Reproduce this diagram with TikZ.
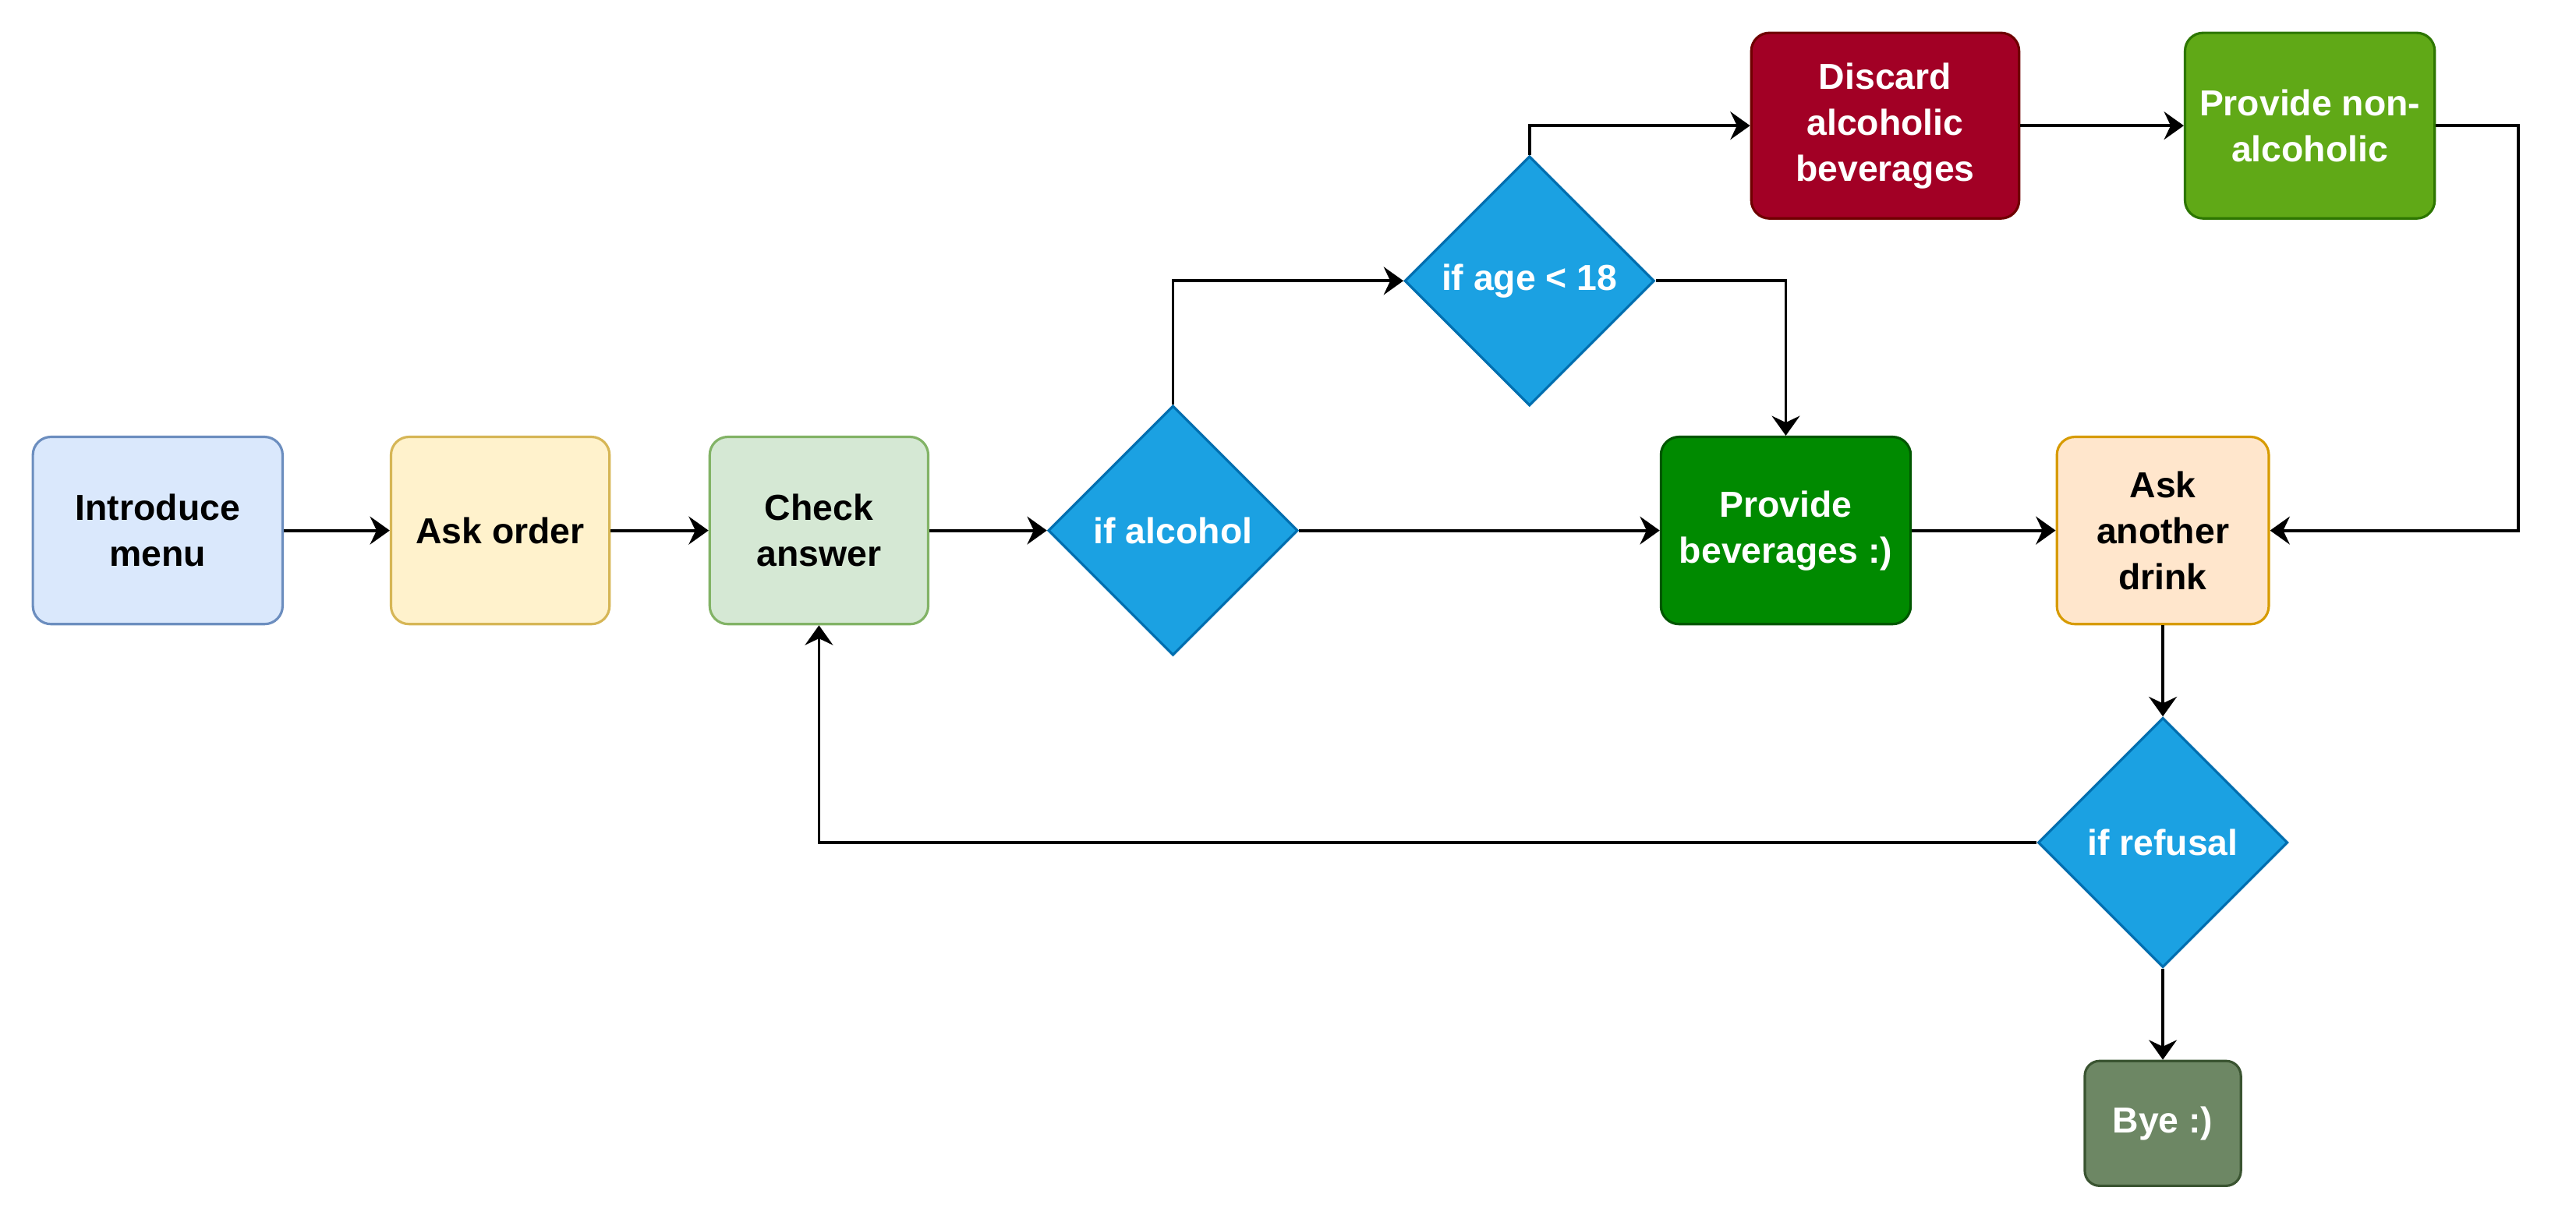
\documentclass[tikz,border=0pt]{standalone}
\usepackage{fontspec}
\setmainfont{Liberation Sans}
\usepackage{tikz}
\usetikzlibrary{shapes.geometric, arrows.meta}

\definecolor{introfill}{HTML}{DAE8FC}\definecolor{introline}{HTML}{6C8EBF}
\definecolor{askfill}{HTML}{FFF2CC}\definecolor{askline}{HTML}{D6B656}
\definecolor{checkfill}{HTML}{D5E8D4}\definecolor{checkline}{HTML}{82B366}
\definecolor{ifill}{HTML}{1BA1E2}\definecolor{iline}{HTML}{006EAF}
\definecolor{discfill}{HTML}{A20025}\definecolor{discline}{HTML}{6F0000}
\definecolor{nonfill}{HTML}{60A917}\definecolor{nonline}{HTML}{2D7600}
\definecolor{provfill}{HTML}{008A00}\definecolor{provline}{HTML}{005700}
\definecolor{anofill}{HTML}{FFE6CC}\definecolor{anoline}{HTML}{D79B00}
\definecolor{byefill}{HTML}{6D8764}\definecolor{byeline}{HTML}{3A5431}

\begin{document}
\begin{tikzpicture}[x=1pt, y=-1pt,
  font=\fontsize{22}{28}\selectfont\bfseries,
  box/.style={draw, line width=1.5pt, rounded corners=11pt, align=center, inner sep=0pt},
  test/.style={diamond, draw=iline, fill=ifill, text=white, line width=1.5pt,
    minimum width=152pt, minimum height=152pt, inner sep=0pt, align=center},
  arr/.style={line width=1.8pt, -{Stealth[length=12pt, width=17pt, inset=4pt]}}]
\useasboundingbox (0,0) rectangle (1568,742);

\node[box, draw=introline, fill=introfill, minimum width=152pt, minimum height=114pt] (intro) at (96,323) {Introduce\\menu};
\node[box, draw=askline, fill=askfill, minimum width=133pt, minimum height=114pt] (ask) at (304.5,323) {Ask order};
\node[box, draw=checkline, fill=checkfill, minimum width=133pt, minimum height=114pt] (check) at (498.5,323) {Check\\answer};
\node[test] (alc) at (714,323) {if alcohol};
\node[test] (age) at (931,171) {if age < 18};
\node[box, draw=discline, fill=discfill, text=white, minimum width=163pt, minimum height=113pt] (disc) at (1147.5,76.5) {Discard\\alcoholic\\beverages};
\node[box, draw=nonline, fill=nonfill, text=white, minimum width=152pt, minimum height=113pt] (nonalc) at (1406,76.5) {Provide non-\\alcoholic};
\node[box, draw=provline, fill=provfill, text=white, minimum width=152pt, minimum height=114pt] (prov) at (1087,323) {Provide\\beverages :)};
\node[box, draw=anoline, fill=anofill, minimum width=129pt, minimum height=114pt] (another) at (1316.5,323) {Ask\\another\\drink};
\node[test] (refusal) at (1316.5,513) {if refusal};
\node[box, draw=byeline, fill=byefill, text=white, rounded corners=9pt, minimum width=95pt, minimum height=76pt] (bye) at (1316.5,684) {Bye :)};
\coordinate (rturn) at (1533,76.5);

\foreach \a/\b in {intro/ask, ask/check, check/alc, alc/prov, disc/nonalc, prov/another, another/refusal, refusal/bye}
  \draw[arr] (\a) -- (\b);
\draw[arr] (alc.north) |- (age.west);
\draw[arr] (age.north) |- (disc.west);
\draw[arr] (age.east) -| (prov.north);
\draw[arr] (nonalc.east) -- (rturn) |- (another.east);
\draw[arr] (refusal.west) -| (check.south);
\end{tikzpicture}
\end{document}
